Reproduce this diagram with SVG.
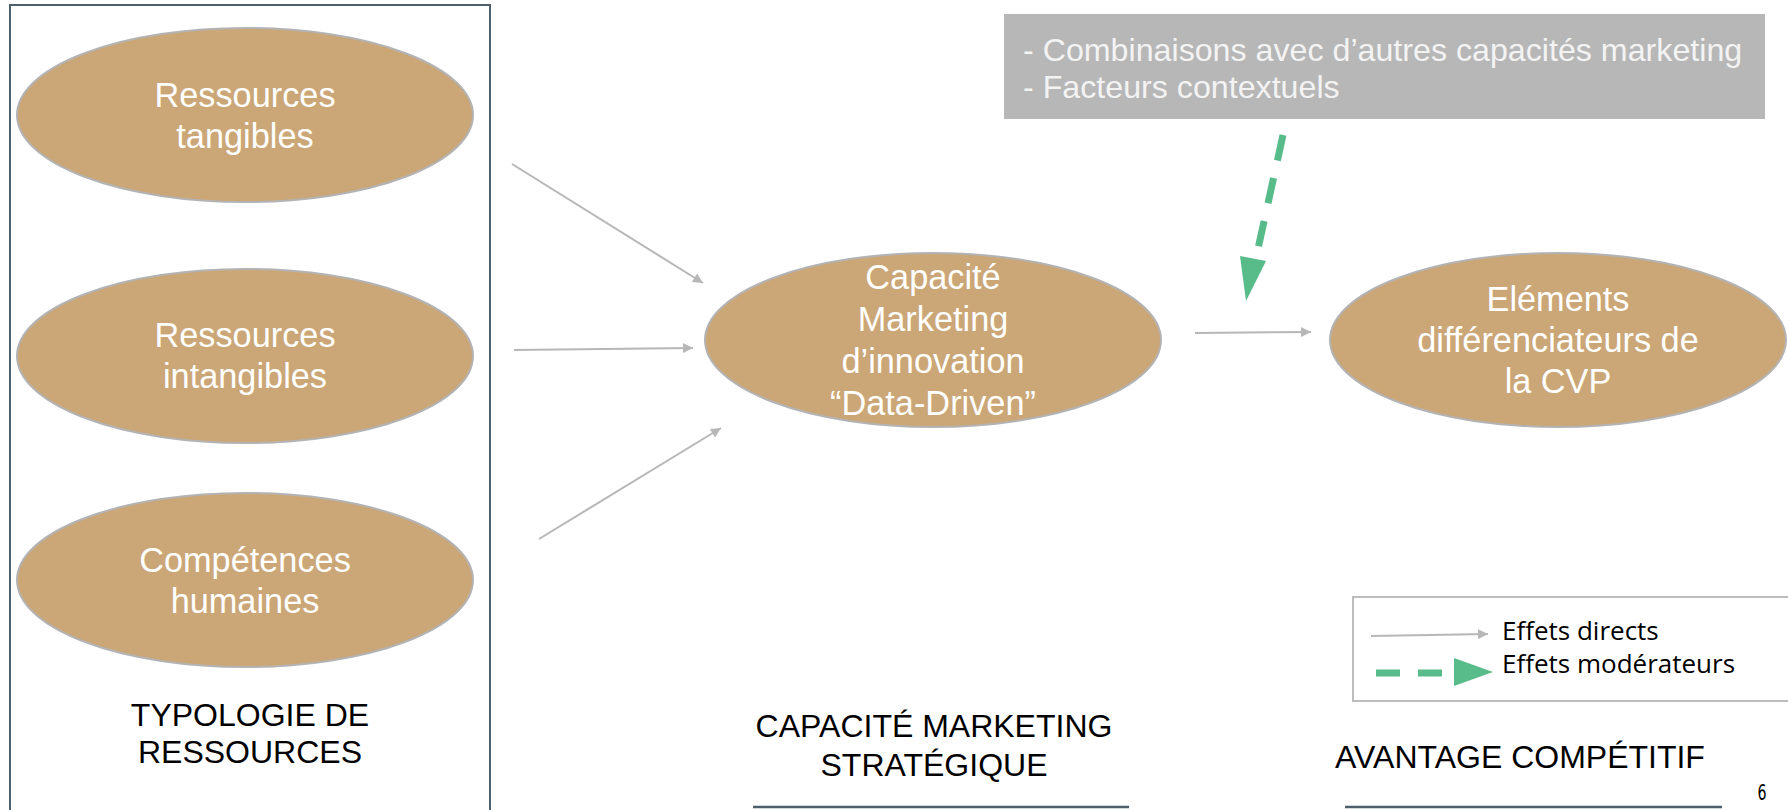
<svg xmlns="http://www.w3.org/2000/svg" width="1788" height="810" viewBox="0 0 1788 810">
<style>
.node{fill:#cba676;stroke:#b3b3b3;stroke-width:2}
.nt{font-family:"Liberation Sans",Arial,sans-serif;font-size:34.3px;fill:#ffffff;text-anchor:middle}
.lbl{font-family:"Liberation Sans",Arial,sans-serif;font-size:32px;fill:#000000;text-anchor:middle}
.mod{font-family:"Liberation Sans",Arial,sans-serif;font-size:32.2px;fill:#f3f3f3}
.leg{font-family:"Open Sans","Noto Sans",sans-serif;font-size:26px;fill:#000000}
.direct{stroke:#b7b7b7;stroke-width:2;fill:none}
.moder{stroke:#57bb8a;stroke-width:7;fill:none;stroke-dasharray:26 18}
.rule{stroke:#4c5f6b;stroke-width:2.5}
</style>
<defs>
<marker id="ah" viewBox="0 0 10 10" refX="10" refY="5" markerWidth="7" markerHeight="5" markerUnits="strokeWidth" orient="auto">
<path d="M0,0 L10,5 L0,10 z" fill="#b7b7b7"/>
</marker>
</defs>
<rect width="1788" height="810" fill="#ffffff"/>
<rect x="10" y="5" width="480" height="820" fill="none" stroke="#4c5f6b" stroke-width="2"/>
<g id="n-tangibles">
<ellipse class="node" cx="245" cy="115" rx="228" ry="87"/>
<text class="nt" x="245" y="107">Ressources</text>
<text class="nt" x="245" y="148">tangibles</text>
</g>
<g id="n-intangibles">
<ellipse class="node" cx="245" cy="356" rx="228" ry="87"/>
<text class="nt" x="245" y="347">Ressources</text>
<text class="nt" x="245" y="388">intangibles</text>
</g>
<g id="n-competences">
<ellipse class="node" cx="245" cy="580" rx="228" ry="87"/>
<text class="nt" x="245" y="572">Compétences</text>
<text class="nt" x="245" y="613">humaines</text>
</g>
<g id="n-capacite">
<ellipse class="node" cx="933" cy="340" rx="228" ry="87"/>
<text class="nt" x="933" y="289">Capacité</text>
<text class="nt" x="933" y="331">Marketing</text>
<text class="nt" x="933" y="373">d’innovation</text>
<text class="nt" x="933" y="415">“Data-Driven”</text>
</g>
<g id="n-cvp">
<ellipse class="node" cx="1558" cy="340" rx="228" ry="87"/>
<text class="nt" x="1558" y="311">Eléments</text>
<text class="nt" x="1558" y="352">différenciateurs de</text>
<text class="nt" x="1558" y="393">la CVP</text>
</g>
<g id="n-moderateurs">
<rect x="1004" y="14" width="761" height="105" fill="#b7b7b7"/>
<text class="mod" x="1023" y="61">- Combinaisons avec d’autres capacités marketing</text>
<text class="mod" x="1023" y="98">- Facteurs contextuels</text>
</g>
<g id="connectors">
<line class="direct" x1="512" y1="164" x2="703" y2="283" marker-end="url(#ah)"/>
<line class="direct" x1="514" y1="350" x2="693" y2="348" marker-end="url(#ah)"/>
<line class="direct" x1="539" y1="539" x2="721" y2="428" marker-end="url(#ah)"/>
<line class="direct" x1="1195" y1="333" x2="1311" y2="332" marker-end="url(#ah)"/>
<line class="moder" x1="1283" y1="135" x2="1256" y2="258"/>
<polygon points="1246,301 1240,256 1266,261" fill="#57bb8a"/>
</g>
<g id="legend">
<rect x="1353" y="597" width="440" height="104" fill="none" stroke="#bdbdbd" stroke-width="2"/>
<line class="direct" x1="1371" y1="636" x2="1488" y2="634" marker-end="url(#ah)"/>
<line x1="1376" y1="673" x2="1454" y2="673" stroke="#57bb8a" stroke-width="7" stroke-dasharray="24 18"/>
<polygon points="1454,658 1493,672 1454,686" fill="#57bb8a"/>
<text class="leg" x="1502" y="640">Effets directs</text>
<text class="leg" x="1502" y="673">Effets modérateurs</text>
</g>
<g id="labels">
<text class="lbl" x="250" y="726">TYPOLOGIE DE</text>
<text class="lbl" x="250" y="763">RESSOURCES</text>
<text class="lbl" x="934" y="737">CAPACITÉ MARKETING</text>
<text class="lbl" x="934" y="776">STRATÉGIQUE</text>
<text class="lbl" x="1520" y="768">AVANTAGE COMPÉTITIF</text>
<line class="rule" x1="753" y1="807" x2="1129" y2="807"/>
<line class="rule" x1="1345" y1="807" x2="1722" y2="807"/>
<text x="1762" y="800" font-family="'DejaVu Sans Condensed','Liberation Sans Narrow','Liberation Sans',sans-serif" font-size="21" font-weight="300" fill="#000000" text-anchor="middle" transform="translate(1762 0) scale(0.75 1) translate(-1762 0)">6</text>
</g>
</svg>
